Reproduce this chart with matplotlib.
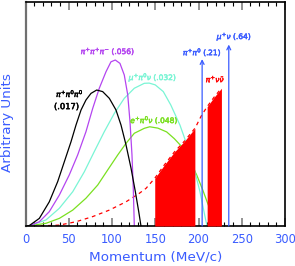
import matplotlib
matplotlib.use("Agg")
import matplotlib.pyplot as plt
import matplotlib.patheffects as pe
import numpy as np

# Spectra (momentum MeV/c, arbitrary units)
x_3pi00 = [0, 4.4, 16.0, 27.5, 37.2, 44.9, 52.6, 58.4, 64.2, 69.9, 75.7, 82.3, 89.2, 96.9, 104.6, 110.4, 116.2, 122.0, 127.0, 130.9, 133.5]
y_3pi00 = [0, 0.002, 0.034, 0.108, 0.198, 0.287, 0.376, 0.451, 0.518, 0.5625, 0.592, 0.607, 0.600, 0.570, 0.518, 0.451, 0.362, 0.258, 0.153, 0.064, 0]

x_3pi = [0, 4.4, 16, 27.5, 39.1, 50.6, 60.3, 69.9, 77.7, 85.3, 93.1, 98.8, 103.8, 109.2, 114.2, 118.2, 120.8, 123.1, 124.6, 125.8]
y_3pi = [0, 0.001, 0.019, 0.064, 0.138, 0.228, 0.317, 0.421, 0.525, 0.615, 0.689, 0.733, 0.741, 0.726, 0.674, 0.585, 0.466, 0.317, 0.168, 0]

x_mu3 = [0, 4.4, 23.7, 39.1, 54.6, 68, 79.5, 91.1, 102.7, 114.2, 125.8, 137.3, 143, 150, 159.3, 168, 178.6, 185.5, 192.1, 197, 201.7, 205.5, 208.7, 210]
y_mu3 = [0, 0.001, 0.027, 0.079, 0.153, 0.242, 0.332, 0.421, 0.503, 0.570, 0.615, 0.637, 0.638, 0.630, 0.600, 0.540, 0.450, 0.375, 0.300, 0.225, 0.153, 0.080, 0.020, 0]

x_e3 = [0, 4.4, 23.7, 39.1, 54.6, 69.9, 83.5, 95, 106.6, 116.2, 125.8, 137.3, 143.6, 153, 163.2, 172, 182.4, 190, 197.9, 205, 211.3, 218, 223, 226.7]
y_e3 = [0, 0.001, 0.012, 0.034, 0.071, 0.124, 0.183, 0.25, 0.317, 0.369, 0.414, 0.436, 0.443, 0.437, 0.420, 0.390, 0.347, 0.290, 0.228, 0.160, 0.094, 0.050, 0.020, 0]

x_pnn = [0, 20, 39.1, 58.4, 77.7, 96.9, 116.2, 131.6, 139.3, 149.4, 160, 172, 184, 195.8, 197.9, 203, 209.5, 218, 226.5]
y_pnn = [0, 0.001, 0.004, 0.019, 0.042, 0.071, 0.108, 0.146, 0.168, 0.213, 0.270, 0.330, 0.380, 0.436, 0.451, 0.490, 0.530, 0.575, 0.615]

region1 = (149.4, 195.8)
region2 = (210.0, 226.5)

p_pi0 = 204.2
h_pi0 = 0.745
p_munu = 235.0
h_munu = 0.81

labels = {
    "k3pi00": (r"$\pi^{+}\pi^{0}\pi^{0}$", "(.017)"),
    "k3pi": r"$\pi^{+}\pi^{+}\pi^{-}$ (.056)",
    "kmu3": r"$\mu^{+}\pi^{0}\nu$ (.032)",
    "ke3": r"$e^{+}\pi^{0}\nu$ (.048)",
    "kpi2": r"$\pi^{+}\pi^{0}$ (.21)",
    "kmu2": r"$\mu^{+}\nu$ (.64)",
    "pnn": r"$\pi^{+}\nu\bar{\nu}$",
}

xticks = [0, 50, 100, 150, 200, 250, 300]

BLUE = "#3a5cff"
PURPLE = "#b445f0"
CYAN = "#7af5d5"
GREEN = "#7ae020"
RED = "#ff0000"

plt.rcParams['font.family'] = ['DejaVu Sans']
plt.rcParams['mathtext.fontset'] = 'dejavusans'

fig = plt.figure(figsize=(2.95, 2.66), dpi=100)
ax = fig.add_axes([25.5/295, 40/266, 259.5/295, 224/266])
ax.set_xlim(0, 300)
ax.set_ylim(0, 1)

lw = 0.9
ax.plot(x_pnn, y_pnn, color=RED, lw=0.9, ls=(0, (3, 3)), zorder=1)

def fill_region(r):
    xs = np.array(x_pnn, dtype=float)
    ys = np.array(y_pnn, dtype=float)
    xi = np.concatenate(([r[0]], xs[(xs > r[0]) & (xs < r[1])], [r[1]]))
    yi = np.interp(xi, xs, ys)
    ax.fill_between(xi, 0, yi, color=RED, lw=0, zorder=3)

fill_region(region1)
fill_region(region2)

ax.plot(x_e3, y_e3, color=GREEN, lw=lw, zorder=2)
ax.plot(x_mu3, y_mu3, color=CYAN, lw=lw, zorder=2)
ax.plot(x_3pi, y_3pi, color=PURPLE, lw=lw, zorder=2)
ax.plot(x_3pi00, y_3pi00, color="black", lw=lw, zorder=2)

for p, h in [(p_pi0, h_pi0), (p_munu, h_munu)]:
    ax.annotate("", xy=(p, h), xytext=(p, 0),
                arrowprops=dict(arrowstyle="->", color=BLUE, lw=0.9,
                                mutation_scale=7, shrinkA=0, shrinkB=0),
                zorder=4)

fs = 5.4

def label(x, y, s, c, size=fs):
    ax.text(x, y, s, color=c, fontsize=size, ha="center", va="center",
            path_effects=[pe.withStroke(linewidth=0.35, foreground=c)], zorder=5)

label(51.4, 0.590, labels["k3pi00"][0], "black")
label(47.4, 0.533, labels["k3pi00"][1], "black", fs + 0.6)
label(95.4, 0.777, labels["k3pi"], PURPLE)
label(147.4, 0.661, labels["kmu3"], CYAN)
label(149.1, 0.469, labels["ke3"], GREEN)
label(204.6, 0.772, labels["kpi2"], BLUE)
label(241.6, 0.844, labels["kmu2"], BLUE)
label(219.7, 0.656, labels["pnn"], RED)

ax.set_xticks(xticks)
ax.set_xticklabels([str(t) for t in xticks])
ax.set_xticks(np.arange(0, 301, 10), minor=True)
ax.set_yticks([])
ax.tick_params(axis="x", which="major", direction="in", length=6, width=1.2,
               color="#808080", top=True, labelsize=8.3, labelcolor=BLUE, pad=5)
ax.tick_params(axis="x", which="minor", direction="in", length=3, width=0.8,
               color="black", top=True)

ax.set_xlabel("Momentum (MeV/c)", color=BLUE, fontsize=9.7, labelpad=3)
ax.set_ylabel("Arbitrary Units", color=BLUE, fontsize=9.7)
ax.yaxis.set_label_coords(-0.045, 0.46)

for s in ["bottom", "top", "right"]:
    ax.spines[s].set_color("black")
    ax.spines[s].set_linewidth(1.2)
ax.spines["left"].set_color("#707070")
ax.spines["left"].set_linewidth(1.6)

fig.savefig("out.png", dpi=100)
